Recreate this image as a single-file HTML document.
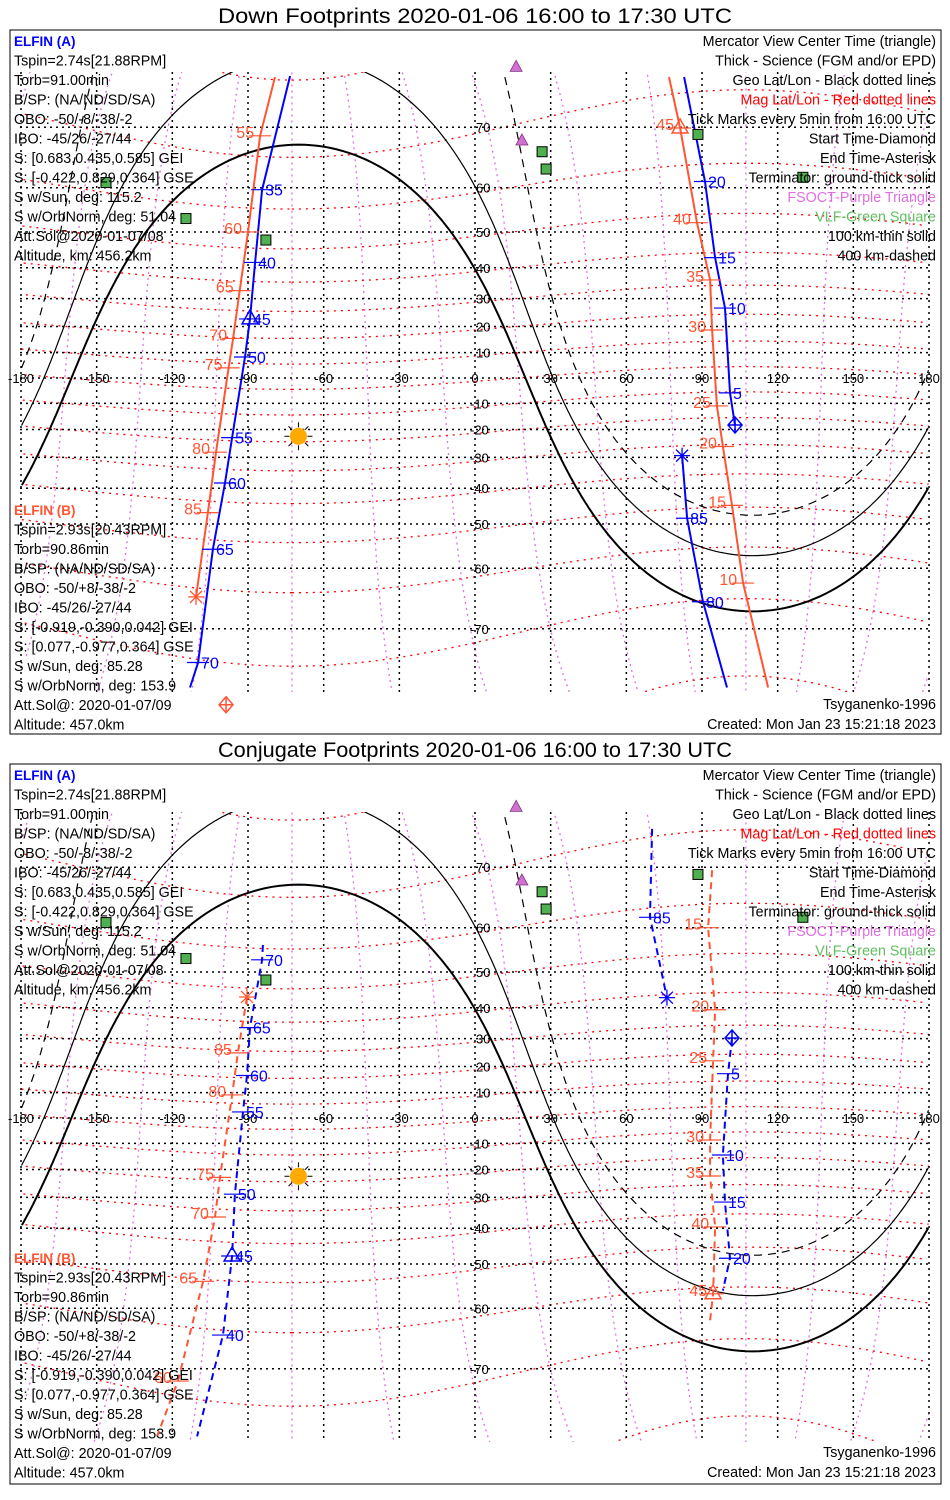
<!DOCTYPE html>
<html><head><meta charset="utf-8">
<style>
html,body{margin:0;padding:0;background:#fff;width:950px;height:1500px;overflow:hidden}
svg{display:block}
text{font-family:"Liberation Sans",sans-serif}
</style></head>
<body>
<svg id="root" width="950" height="1500" viewBox="0 0 950 1500" xmlns="http://www.w3.org/2000/svg">
<defs>
<clipPath id="clipTop"><rect x="20" y="72" width="910" height="620"/></clipPath>
<clipPath id="clipBot"><rect x="20" y="812" width="910" height="630"/></clipPath>
</defs>
<rect x="0" y="0" width="950" height="1500" fill="#fff"/>
</svg>
<script>
// ---- data (lon/lat in degrees) ----
const lonTicks=[-180,-150,-120,-90,-60,-30,0,30,60,90,120,150,180];
const latTicks=[-70,-60,-50,-40,-30,-20,-10,0,10,20,30,40,50,60,70];
const subsolarLat=-22.5;
const subsolarLon=-70;
const termDip=[0,10.1,19.8];
const magPoleLat=85.5;
const magPoleLon=-72.6;
const magLats=[-80,-70,-60,-50,-40,-30,-20,-10,0,10,20,30,40,50,60,70,80];
const magLons=[0,30,60,90,120,150,180,210,240,270,300,330];
const fsoctLon=[16.3,18.6];
const fsoctLat=[76.8,68.2];
const vlfLon=[26.6,28.2,-146.3,-114.6,-82.9,88.4,130.0];
const vlfLat=[66.4,63.5,61.0,53.3,47.9,69.0,62.0];
// Down panel tracks
const downA1Lon=[-73.3,-84.4,-87.2,-89.2,-91.2,-96.3,-99.1,-103.9,-109.8,-113.0];
const downA1Lat=[75.9,59.6,41.6,22.8,8.3,-23.0,-38.4,-56.0,-74.1,-76.6];
const downA1Ticks=[1,2,3,4,5,6,7,8];
const downA1Labels=['35','40','45','50','55','60','65','70'];
const downB1Lon=[-79.3,-85.2,-90.0,-93.3,-95.9,-97.7,-102.7,-105.9,-110.6];
const downB1Lat=[75.8,68.8,50.0,32.7,15.5,4.0,-28.2,-47.0,-65.2];
const downB1Ticks=[1,2,3,4,5,6,7];
const downB1Labels=['55','60','65','70','75','80','85'];
const downA2Lon=[82.9,91.2,95.2,99.1,101.1,103.1];
const downA2Lat=[75.8,61.2,43.0,26.7,-5.9,-18.3];
const downA2Ticks=[1,2,3,4];
const downA2Labels=['20','15','10','5'];
const downA3Lon=[82.1,84.1,90.4,99.9];
const downA3Lat=[-29.4,-48.5,-66.0,-76.6];
const downA3Ticks=[1,2];
const downA3Labels=['85','80'];
const downB2Lon=[76.9,81.3,88.0,93.2,94.0,95.9,98.3,101.9,106.3,116.2];
const downB2Lat=[75.8,69.9,52.3,36.2,18.7,-11.0,-26.2,-45.0,-62.8,-76.6];
const downB2Ticks=[1,2,3,4,5,6,7,8];
const downB2Labels=['45','40','35','30','25','20','15','10'];
// Conjugate panel tracks
const conjA1Lon=[-84.1,-84.4,-89.2,-90.4,-92.0,-95.2,-96.3,-99.9,-110.2];
const conjA1Lat=[56.4,53.0,33.7,16.6,2.4,-28.9,-47.9,-64.9,-77.4];
const conjA1Ticks=[1,2,3,4,5,6,7];
const conjA1Labels=['70','65','60','55','50','45','40'];
const conjB1Lon=[-90.4,-94.0,-96.3,-101.1,-103.1,-107.8,-117.8,-126.1];
const conjB1Lat=[43.2,25.0,9.1,-22.9,-36.5,-54.2,-71.6,-77.4];
const conjB1Ticks=[1,2,3,4,5,6];
const conjB1Labels=['85','80','75','70','65','60'];
const conjA2Lon=[70.2,69.4,76.1];
const conjA2Lat=[74.6,62.0,43.0];
const conjA2Ticks=[1];
const conjA2Labels=['85'];
const conjA3Lon=[101.9,100.3,98.3,99.1,101.1,98.3];
const conjA3Lat=[30.2,17.3,-14.5,-31.6,-48.5,-56.3];
const conjA3Ticks=[1,2,3,4];
const conjA3Labels=['5','10','15','20'];
const conjB2Lon=[94.0,92.4,95.2,94.4,93.2,93.2,95.2,94.4,93.2];
const conjB2Lat=[69.6,60.0,39.4,22.1,-8.7,-22.4,-39.6,-57.0,-62.3];
const conjB2Ticks=[1,2,3,4,5,6,7];
const conjB2Labels=['15','20','25','30','35','40','45'];

const leftA=['Tspin=2.74s[21.88RPM]','Torb=91.00min','B/SP: (NA/ND/SD/SA)','OBO: -50/-8/-38/-2','IBO: -45/26/-27/44','S: [0.683,0.435,0.585] GEI','S: [-0.422,0.829,0.364] GSE','S w/Sun, deg: 115.2','S w/OrbNorm, deg: 51.04','Att.Sol@2020-01-07/08','Altitude, km: 456.2km'];
const leftB=['Tspin=2.93s[20.43RPM]','Torb=90.86min','B/SP: (NA/ND/SD/SA)','OBO: -50/+8/-38/-2','IBO: -45/26/-27/44','S: [-0.919,-0.390,0.042] GEI','S: [0.077,-0.977,0.364] GSE','S w/Sun, deg: 85.28','S w/OrbNorm, deg: 153.9','Att.Sol@: 2020-01-07/09','Altitude: 457.0km'];
const rightText=['Mercator View Center Time (triangle)','Thick - Science (FGM and/or EPD)','Geo Lat/Lon - Black dotted lines','Mag Lat/Lon - Red dotted lines','Tick Marks every 5min from 16:00 UTC','Start Time-Diamond','End Time-Asterisk','Terminator: ground-thick solid','FSOCT-Purple Triangle','VLF-Green Square','100 km-thin solid','400 km-dashed'];
const rightColors=['#000','#000','#000','#ff0000','#000','#000','#000','#000','#e070e0','#60c060','#000','#000'];

// ---- helpers ----
const NS='http://www.w3.org/2000/svg';
const root=document.getElementById('root');
const D=Math.PI/180;
function X(lon){return 475+lon*2.5222;}
function Y(lat,y0){const l=Math.max(-85,Math.min(85,lat));return y0-144.5*Math.log(Math.tan(Math.PI/4+l*D/2));}
function mk(tag,attrs,parent){const e=document.createElementNS(NS,tag);for(const k in attrs)e.setAttribute(k,attrs[k]);(parent||root).appendChild(e);return e;}
function txt(s,x,y,attrs,parent){const e=mk('text',Object.assign({x:x,y:y},attrs),parent);e.textContent=s;return e;}
function polyPath(lons,lats,y0){let d='';let px=null;for(let i=0;i<lons.length;i++){const x=X(lons[i]),y=Y(lats[i],y0);if(px===null||Math.abs(x-px)>300)d+='M'+x.toFixed(1)+','+y.toFixed(1);else d+='L'+x.toFixed(1)+','+y.toFixed(1);px=x;}return d;}
function norm(l){while(l>180)l-=360;while(l<-180)l+=360;return l;}
function magToGeo(m,psi){
  const pl=magPoleLat*D,pn=magPoleLon*D;
  const p=[Math.cos(pl)*Math.cos(pn),Math.cos(pl)*Math.sin(pn),Math.sin(pl)];
  let e1=[-p[2]*p[0],-p[2]*p[1],1-p[2]*p[2]];const n=Math.hypot(...e1);e1=e1.map(v=>-v/n);
  const e2=[p[1]*e1[2]-p[2]*e1[1],p[2]*e1[0]-p[0]*e1[2],p[0]*e1[1]-p[1]*e1[0]];
  const cm=Math.cos(m*D),sm=Math.sin(m*D),cp=Math.cos(psi*D),sp=Math.sin(psi*D);
  const v=[0,1,2].map(i=>cm*cp*e1[i]+cm*sp*e2[i]+sm*p[i]);
  return [Math.atan2(v[1],v[0])/D,Math.asin(v[2])/D];
}

function drawPanel(y0,top,bottom,clipId,title,tracks,dashed,pname,bOff,footOff){
  const g=mk('g',{});
  
  
  const t=txt(title,475,top-7,{'text-anchor':'middle','font-size':'21','fill':'#000','textLength':'514','lengthAdjust':'spacingAndGlyphs'},g);
  
  
  const frame=mk('rect',{x:10,y:top,width:931,height:bottom-top,fill:'none',stroke:'#000','stroke-width':1},g);
  
  
  const map=mk('g',{'clip-path':'url(#'+clipId+')'},g);
  
  
  for(const psi of magLons){const lo=[],la=[];for(let m=-88;m<=88;m+=2){const r=magToGeo(m,psi);lo.push(r[0]);la.push(r[1]);}
    const p=mk('path',{d:polyPath(lo,la,y0),fill:'none',stroke:'#e070e0','stroke-width':1.3,'stroke-dasharray':'2,4'},map);
    
    }
  for(const m of magLats){const lo=[],la=[];for(let psi=0;psi<=360;psi+=2){const r=magToGeo(m,psi);lo.push(r[0]);la.push(r[1]);}
    const p=mk('path',{d:polyPath(lo,la,y0),fill:'none',stroke:'#ff0000','stroke-width':1.3,'stroke-dasharray':'2,5'},map);
    
    }
  for(const lon of lonTicks){const l=mk('line',{x1:X(lon),x2:X(lon),y1:top,y2:bottom,stroke:'#000','stroke-width':1.5,'stroke-dasharray':'2,4'},map);
    
    }
  for(const lat of latTicks){const l=mk('line',{x1:20,x2:930,y1:Y(lat,y0),y2:Y(lat,y0),stroke:'#000','stroke-width':1.5,'stroke-dasharray':'2,4'},map);
    
    }
  termDip.forEach((dip,k)=>{const delta=(90+dip)*D,f1=subsolarLat*D;const lo=[],la=[];
    for(let th=0;th<=360;th+=1){const t=th*D;const l2=Math.asin(Math.sin(f1)*Math.cos(delta)+Math.cos(f1)*Math.sin(delta)*Math.cos(t));
      const dl=Math.atan2(Math.sin(t)*Math.sin(delta)*Math.cos(f1),Math.cos(delta)-Math.sin(f1)*Math.sin(l2));
      lo.push(norm(subsolarLon+dl/D));la.push(l2/D);}
    const p=mk('path',{d:polyPath(lo,la,y0),fill:'none',stroke:'#000','stroke-width':k===0?2:1.2,'stroke-dasharray':k===2?'8,6':'none'},map);
    
    });
  for(const lon of lonTicks){const l=txt(String(lon),X(lon),y0+5,{'text-anchor':'middle','font-size':'13','fill':'#000'},g);
    
    }
  for(const lat of latTicks){if(lat===0)continue;const l=txt(String(lat),lat<0?470:476,Y(lat,y0)+5,{'font-size':'13','fill':'#000'},g);
    
    }
  tracks.forEach(tr=>{const col=tr.c;
    const p=mk('path',{d:polyPath(tr.lon,tr.lat,y0),fill:'none',stroke:col,'stroke-width':2,'stroke-dasharray':dashed?'7,5':'none'},map);
    
    
    tr.ticks.forEach((idx,j)=>{const x=X(tr.lon[idx]),y=Y(tr.lat[idx],y0);
      const tk=mk('line',{x1:x-11,x2:x+11,y1:y,y2:y,stroke:col,'stroke-width':1.2},g);
      
      
      const lb=tr.c==='#0000ff'?txt(tr.labels[j],x+3,y+6,{'font-size':'16','fill':col},g):txt(tr.labels[j],x-6,y+2,{'font-size':'16','fill':col,'text-anchor':'end'},g);
      
      });
    (tr.marks||[]).forEach(mkk=>{const x=X(mkk.lon!==undefined?mkk.lon:tr.lon[mkk.i]),y=Y(mkk.lat!==undefined?mkk.lat:tr.lat[mkk.i],y0);let e;
      if(mkk.t==='tri')e=mk('path',{d:`M${x},${y-9}L${x+8},${y+5}L${x-8},${y+5}Z`,fill:'none',stroke:col,'stroke-width':1.5},g);
      else if(mkk.t==='dia')e=mk('path',{d:`M${x},${y-8}L${x+7},${y}L${x},${y+8}L${x-7},${y}Z M${x},${y-8}V${y+8}M${x-7},${y}H${x+7}`,fill:'none',stroke:col,'stroke-width':1.5},g);
      else e=mk('path',{d:`M${x-8},${y}H${x+8}M${x},${y-8}V${y+8}M${x-6},${y-6}L${x+6},${y+6}M${x-6},${y+6}L${x+6},${y-6}`,fill:'none',stroke:col,'stroke-width':1.3},g);
      
      });
  });
  fsoctLon.forEach((lo,i)=>{const x=X(lo),y=Y(fsoctLat[i],y0);const e=mk('path',{d:`M${x},${y-6}L${x+6},${y+5}L${x-6},${y+5}Z`,fill:'#d070d0',stroke:'#803080','stroke-width':0.8},g);
    
    });
  vlfLon.forEach((lo,i)=>{const x=X(lo),y=Y(vlfLat[i],y0);const e=mk('rect',{x:x-5,y:y-5,width:10,height:10,fill:'#50b050',stroke:'#000','stroke-width':1},g);
    
    });
  const sx=X(subsolarLon),sy=Y(subsolarLat,y0);
  const sun=mk('g',{},g);
  
  
  for(let a=0;a<360;a+=45){const r=a*D;mk('line',{x1:sx+9*Math.cos(r),y1:sy+9*Math.sin(r),x2:sx+14*Math.cos(r),y2:sy+14*Math.sin(r),stroke:'#000','stroke-width':1},sun);}
  mk('circle',{cx:sx,cy:sy,r:8.5,fill:'#ffaa00'},sun);
  const la=txt('ELFIN (A)',14,top+16,{'font-size':'13.5','font-weight':'bold','fill':'#0000ff'},g);
  
  
  leftA.forEach((s,i)=>{const e=txt(s,14,top+35.5+19.5*i,{'font-size':'14.3','fill':'#000'},g);
    
    });
  const lb=txt('ELFIN (B)',14,top+bOff,{'font-size':'13.5','font-weight':'bold','fill':'#ff5533'},g);
  
  
  leftB.forEach((s,i)=>{const e=txt(s,14,top+bOff+19.5*(i+1),{'font-size':'14.3','fill':'#000'},g);
    
    });
  rightText.forEach((s,i)=>{const e=txt(s,936,top+16+19.5*i,{'font-size':'14.3','fill':rightColors[i],'text-anchor':'end'},g);
    
    });
  const m1=txt('Tsyganenko-1996',936,bottom-footOff-20,{'font-size':'14.3','text-anchor':'end'},g);
  
  
  const m2=txt('Created: Mon Jan 23 15:21:18 2023',936,bottom-footOff,{'font-size':'14.3','text-anchor':'end'},g);
  
  
}
const BLUE='#0000ff',RED='#ff5533';
drawPanel(378,30,734,'clipTop','Down Footprints 2020-01-06 16:00 to 17:30 UTC',[
 {name:'elfin-a-track-1',c:BLUE,lon:downA1Lon,lat:downA1Lat,ticks:downA1Ticks,labels:downA1Labels,marks:[{t:'tri',i:3}]},
 {name:'elfin-b-track-1',c:RED,lon:downB1Lon,lat:downB1Lat,ticks:downB1Ticks,labels:downB1Labels,marks:[{t:'ast',i:8},{t:'dia',lon:-98.7,lat:-78.1}]},
 {name:'elfin-a-track-2',c:BLUE,lon:downA2Lon,lat:downA2Lat,ticks:downA2Ticks,labels:downA2Labels,marks:[{t:'dia',i:5}]},
 {name:'elfin-a-track-3',c:BLUE,lon:downA3Lon,lat:downA3Lat,ticks:downA3Ticks,labels:downA3Labels,marks:[{t:'ast',i:0}]},
 {name:'elfin-b-track-2',c:RED,lon:downB2Lon,lat:downB2Lat,ticks:downB2Ticks,labels:downB2Labels,marks:[{t:'tri',i:1}]}
],false,'down-footprints-panel',485,5);
drawPanel(1118,764,1484,'clipBot','Conjugate Footprints 2020-01-06 16:00 to 17:30 UTC',[
 {name:'elfin-a-conj-track-1',c:BLUE,lon:conjA1Lon,lat:conjA1Lat,ticks:conjA1Ticks,labels:conjA1Labels,marks:[{t:'tri',i:6}]},
 {name:'elfin-b-conj-track-1',c:RED,lon:conjB1Lon,lat:conjB1Lat,ticks:conjB1Ticks,labels:conjB1Labels,marks:[{t:'ast',i:0}]},
 {name:'elfin-a-conj-track-2',c:BLUE,lon:conjA2Lon,lat:conjA2Lat,ticks:conjA2Ticks,labels:conjA2Labels,marks:[{t:'ast',i:2}]},
 {name:'elfin-a-conj-track-3',c:BLUE,lon:conjA3Lon,lat:conjA3Lat,ticks:conjA3Ticks,labels:conjA3Labels,marks:[{t:'dia',i:0}]},
 {name:'elfin-b-conj-track-2',c:RED,lon:conjB2Lon,lat:conjB2Lat,ticks:conjB2Ticks,labels:conjB2Labels,marks:[{t:'tri',i:7}]}
],true,'conjugate-footprints-panel',499,7);
</script>
</body></html>
